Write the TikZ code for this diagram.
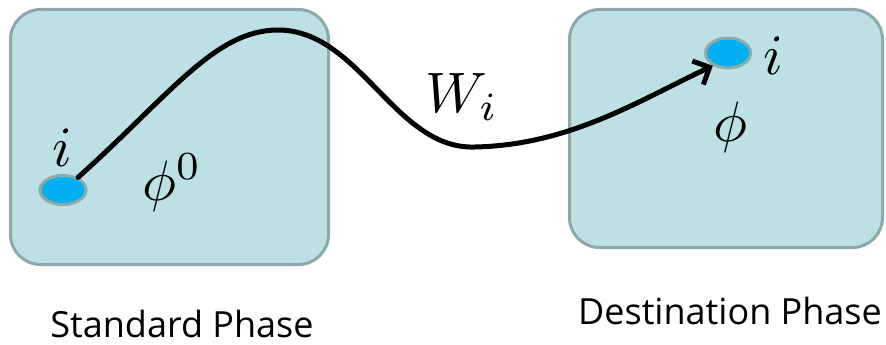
\documentclass[tikz,border=0pt]{standalone}
\usepackage{fontspec}
\newfontfamily\labelfont{Open Sans}
\usetikzlibrary{arrows.meta,shapes.geometric}
\definecolor{boxfill}{HTML}{BCE0E3}
\definecolor{boxedge}{HTML}{8DA9AA}
\definecolor{dotblue}{HTML}{00B0F0}
\begin{document}
\begin{tikzpicture}[x=1pt,y=-1pt,
  phasebox/.style={draw=boxedge, fill=boxfill, line width=3pt, rounded corners=30pt, inner sep=0pt},
  particle/.style={ellipse, draw=boxedge, fill=dotblue, line width=3pt, inner sep=0pt},
  mathlbl/.style={inner sep=0pt, scale=5.7},
  phaselbl/.style={inner sep=0pt, font=\labelfont\fontsize{36}{42}\selectfont},
  path/.style={line width=5pt, line cap=round, -{Straight Barb[length=13pt,width=26pt,line width=5pt]}}
]
\useasboundingbox (0,0) rectangle (886,345);
\node[phasebox, minimum width=318pt, minimum height=255pt] (std) at (169.5,137) {};
\node[phasebox, minimum width=313pt, minimum height=238pt] (dst) at (726,128.5) {};
\node[particle, minimum width=46pt, minimum height=29pt] (a) at (63,190) {};
\node[particle, minimum width=45pt, minimum height=30pt] (b) at (728,53) {};
\node[mathlbl] (ia) at (62,148) {$i$};
\node[mathlbl] (phi0) at (172,183) {$\phi^0$};
\node[mathlbl] (ib) at (773,56) {$i$};
\node[mathlbl] (phi) at (730,127) {$\phi$};
\node[mathlbl] (w) at (462,97) {$W_i$};
\coordinate (p1) at (278,30);
\coordinate (p2) at (475,147);
\draw[path] (a.40) .. controls (170,95) and (215,30) .. (p1)
  .. controls (360,30) and (395,150) .. (p2)
  .. controls (570,145) and (640,100) .. (b.220);
\node[phaselbl] (sl) at (182,324) {Standard Phase};
\node[phaselbl] (dl) at (730,311) {Destination Phase};
\end{tikzpicture}
\end{document}
